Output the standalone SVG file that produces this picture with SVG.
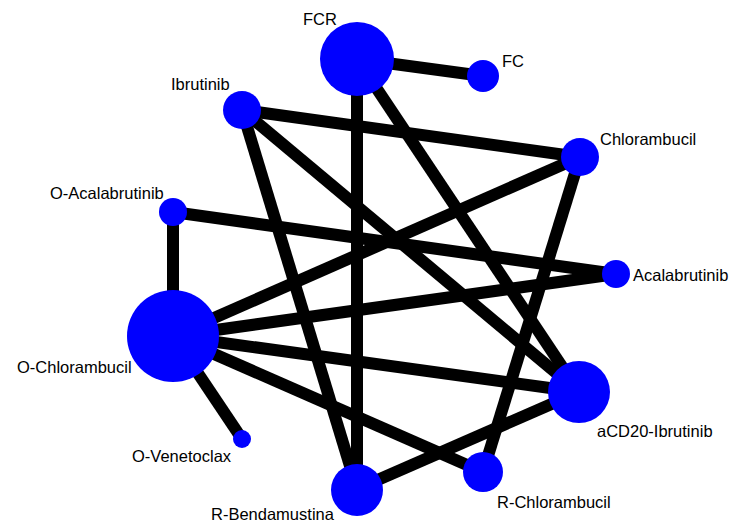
<svg xmlns="http://www.w3.org/2000/svg" width="732" height="525" viewBox="0 0 732 525">
  <style>
    .edge { stroke: #000; stroke-width: 12; stroke-linecap: butt; }
    .node circle { fill: #0000ff; }
    .node text { font-family: "Liberation Sans", Arial, sans-serif; font-size: 16.5px; fill: #000; }
  </style>
  <rect width="732" height="525" fill="#fff"/>
  <g id="edges">
    <line class="edge" x1="357" y1="59" x2="483" y2="76"/>
    <line class="edge" x1="357" y1="59" x2="357" y2="489"/>
    <line class="edge" x1="357" y1="59" x2="579" y2="392"/>
    <line class="edge" x1="242" y1="110" x2="580" y2="157"/>
    <line class="edge" x1="242" y1="110" x2="579" y2="392"/>
    <line class="edge" x1="242" y1="110" x2="357" y2="489"/>
    <line class="edge" x1="580" y1="157" x2="173" y2="336"/>
    <line class="edge" x1="580" y1="157" x2="483" y2="472"/>
    <line class="edge" x1="173" y1="212" x2="616" y2="274"/>
    <line class="edge" x1="173" y1="212" x2="173" y2="336"/>
    <line class="edge" x1="173" y1="336" x2="616" y2="274"/>
    <line class="edge" x1="173" y1="336" x2="579" y2="392"/>
    <line class="edge" x1="173" y1="336" x2="483" y2="472"/>
    <line class="edge" x1="173" y1="336" x2="242" y2="439"/>
    <line class="edge" x1="357" y1="489" x2="579" y2="392"/>
  </g>
  <g id="FCR" class="node"><circle cx="357" cy="59" r="37"/><text x="303" y="25">FCR</text></g>
  <g id="FC" class="node"><circle cx="483" cy="76" r="16"/><text x="502" y="67">FC</text></g>
  <g id="Ibrutinib" class="node"><circle cx="242" cy="110" r="19"/><text x="171" y="90">Ibrutinib</text></g>
  <g id="Chlorambucil" class="node"><circle cx="580" cy="157" r="19"/><text x="600" y="145">Chlorambucil</text></g>
  <g id="O-Acalabrutinib" class="node"><circle cx="173" cy="212" r="14"/><text x="50" y="199">O-Acalabrutinib</text></g>
  <g id="Acalabrutinib" class="node"><circle cx="616" cy="274" r="14"/><text x="633" y="281">Acalabrutinib</text></g>
  <g id="O-Chlorambucil" class="node"><circle cx="173" cy="336" r="46"/><text x="17" y="373">O-Chlorambucil</text></g>
  <g id="aCD20-Ibrutinib" class="node"><circle cx="579" cy="392" r="31"/><text x="597" y="437">aCD20-Ibrutinib</text></g>
  <g id="O-Venetoclax" class="node"><circle cx="242" cy="439" r="9"/><text x="132" y="462">O-Venetoclax</text></g>
  <g id="R-Chlorambucil" class="node"><circle cx="483" cy="472" r="20"/><text x="497" y="508">R-Chlorambucil</text></g>
  <g id="R-Bendamustina" class="node"><circle cx="357" cy="490" r="26"/><text x="211" y="520">R-Bendamustina</text></g>
</svg>
